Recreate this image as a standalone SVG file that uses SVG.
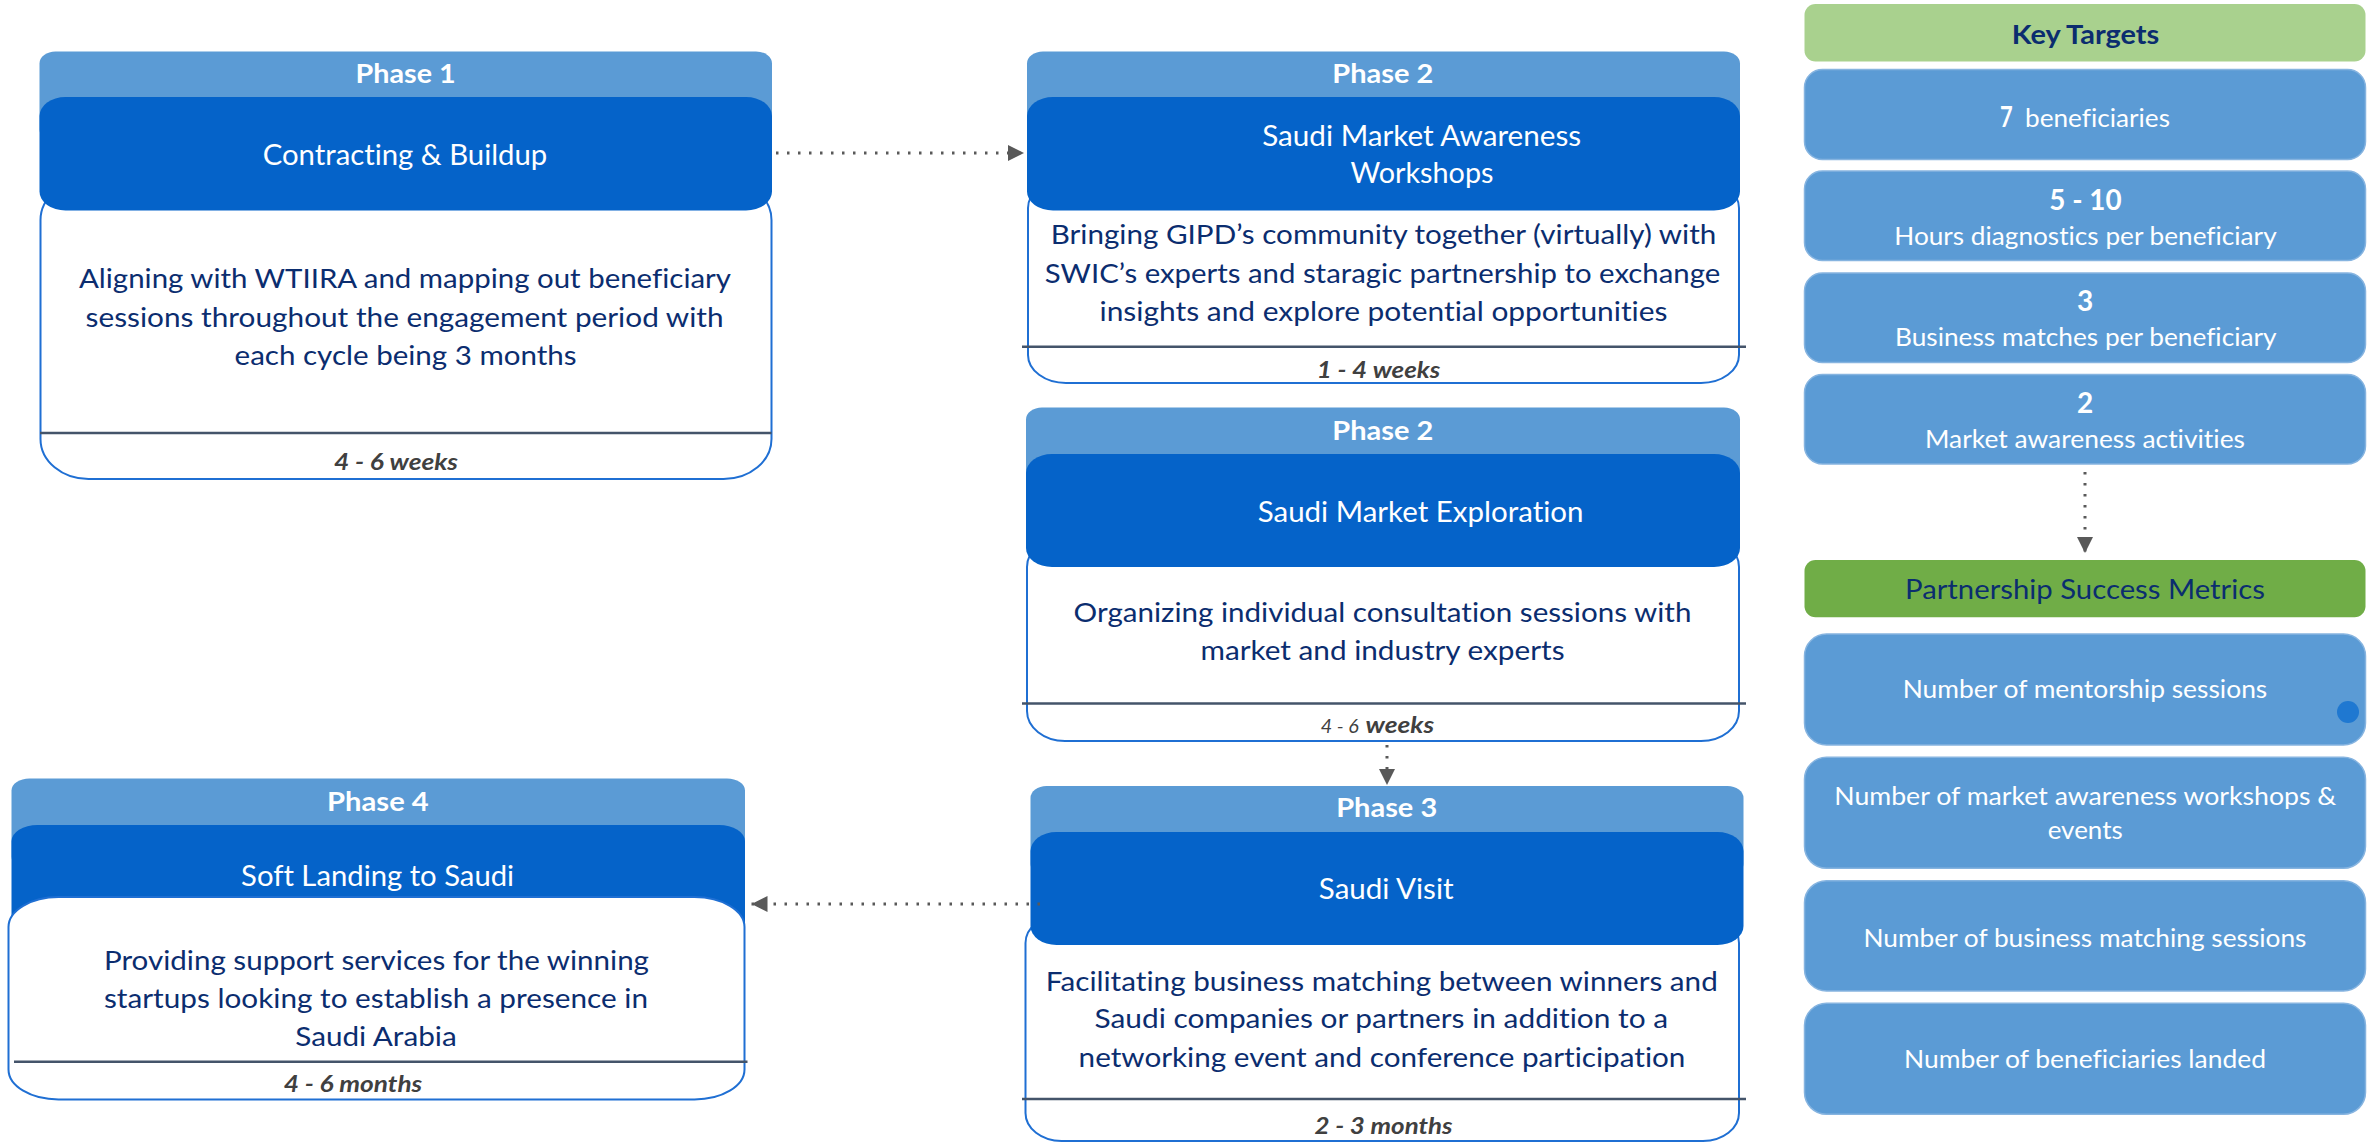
<svg xmlns="http://www.w3.org/2000/svg" width="2379" height="1144" viewBox="0 0 2379 1144">
  <defs>
    <marker id="arrow" markerUnits="userSpaceOnUse" markerWidth="16" markerHeight="16" refX="16" refY="8" orient="auto">
      <path d="M0,0 L16,8 L0,16 Z" fill="#595959"/>
    </marker>
    <style>
      text { font-family: Lato, "Liberation Sans", sans-serif; font-variant-ligatures: none; }
      .hdr { fill: #5B9BD5; }
      .ttl { fill: #0563C9; }
      .body { fill: #FFFFFF; stroke: #1F6FD3; stroke-width: 2; }
      .sep { stroke: #44546A; stroke-width: 2.5; }
      .ph { font-size: 27px; font-weight: bold; fill: #FFFFFF; text-anchor: middle; }
      .tt { font-size: 28px; fill: #FFFFFF; text-anchor: middle; }
      .bd { font-size: 26.5px; fill: #0B2D6F; text-anchor: middle; }
      .ft { font-size: 23px; font-weight: bold; font-style: italic; fill: #404040; text-anchor: middle; }
      .ftr { font-size: 18.5px; font-weight: normal; font-style: italic; fill: #404040; }
      .ftb { font-size: 23px; font-weight: bold; font-style: italic; fill: #404040; }
      .kbox { fill: #5B9BD5; stroke: #86B4E0; stroke-width: 1.5; }
      .kt { font-size: 25.5px; fill: #FFFFFF; text-anchor: middle; }
      .kn { font-size: 28px; font-weight: bold; fill: #FFFFFF; text-anchor: middle; }
      .gh { font-size: 27px; fill: #0B2D6F; text-anchor: middle; }
      .conn { fill: none; stroke: #595959; stroke-width: 3; stroke-dasharray: 2.5 8.5; }
    </style>
  </defs>

  <rect width="2379" height="1144" fill="#FFFFFF"/>

  <!-- Phase 1 -->
  <g id="phase1">
    <rect class="hdr" x="39.5" y="51.5" width="732.5" height="90" rx="16" ry="12"/>
    <rect class="body" x="40.5" y="180" width="731" height="299" rx="48" ry="40"/>
    <rect class="ttl" x="39.5" y="97" width="732.5" height="113.5" rx="26" ry="19"/>
    <line class="sep" x1="40" y1="433" x2="771.5" y2="433"/>
    <text class="ph" x="405.6" y="82.7" textLength="100" lengthAdjust="spacingAndGlyphs">Phase 1</text>
    <text class="tt" x="405" y="165" textLength="284.6" lengthAdjust="spacingAndGlyphs">Contracting &amp; Buildup</text>
    <text class="bd" x="405" y="288.3" textLength="652" lengthAdjust="spacingAndGlyphs">Aligning with WTIIRA and mapping out beneficiary</text>
    <text class="bd" x="404.6" y="326.7" textLength="638" lengthAdjust="spacingAndGlyphs">sessions throughout the engagement period with</text>
    <text class="bd" x="405.6" y="365" textLength="342" lengthAdjust="spacingAndGlyphs">each cycle being 3 months</text>
    <text class="ft" x="396" y="470" textLength="124" lengthAdjust="spacingAndGlyphs">4 - 6 weeks</text>
  </g>

  <!-- Phase 2: awareness workshops -->
  <g id="phase2-workshops">
    <rect class="hdr" x="1027" y="51.5" width="713" height="90" rx="16" ry="12"/>
    <rect class="body" x="1028" y="180" width="711" height="203" rx="38" ry="28"/>
    <rect class="ttl" x="1027" y="97" width="713" height="113.5" rx="26" ry="19"/>
    <line class="sep" x1="1022" y1="346.7" x2="1746" y2="346.7"/>
    <text class="ph" x="1382.8" y="82.7" textLength="101" lengthAdjust="spacingAndGlyphs">Phase 2</text>
    <text class="tt" x="1421.7" y="146" textLength="319" lengthAdjust="spacingAndGlyphs">Saudi Market Awareness</text>
    <text class="tt" x="1422" y="183.3" textLength="143" lengthAdjust="spacingAndGlyphs">Workshops</text>
    <text class="bd" x="1383.5" y="244" textLength="665.6" lengthAdjust="spacingAndGlyphs">Bringing GIPD’s community together (virtually) with</text>
    <text class="bd" x="1382.5" y="283.3" textLength="675.5" lengthAdjust="spacingAndGlyphs">SWIC’s experts and staragic partnership to exchange</text>
    <text class="bd" x="1383.5" y="321" textLength="568" lengthAdjust="spacingAndGlyphs">insights and explore potential opportunities</text>
    <text class="ft" x="1378.5" y="378.3" textLength="123.4" lengthAdjust="spacingAndGlyphs">1 - 4 weeks</text>
  </g>

  <!-- Phase 2: market exploration -->
  <g id="phase2-exploration">
    <rect class="hdr" x="1026" y="407.5" width="714" height="90" rx="16" ry="12"/>
    <rect class="body" x="1027" y="537" width="712" height="204" rx="38" ry="30"/>
    <rect class="ttl" x="1026" y="454" width="714" height="113" rx="26" ry="19"/>
    <line class="sep" x1="1022" y1="703.5" x2="1746" y2="703.5"/>
    <text class="ph" x="1382.8" y="440" textLength="101" lengthAdjust="spacingAndGlyphs">Phase 2</text>
    <text class="tt" x="1420.6" y="521.7" textLength="325.8" lengthAdjust="spacingAndGlyphs">Saudi Market Exploration</text>
    <text class="bd" x="1382.5" y="621.7" textLength="617.8" lengthAdjust="spacingAndGlyphs">Organizing individual consultation sessions with</text>
    <text class="bd" x="1382.5" y="660" textLength="364" lengthAdjust="spacingAndGlyphs">market and industry experts</text>
    <text y="732.7"><tspan class="ftr" x="1320.8" textLength="38" lengthAdjust="spacingAndGlyphs">4 - 6</tspan><tspan class="ftb" x="1365.6" textLength="68.6" lengthAdjust="spacingAndGlyphs">weeks</tspan></text>
  </g>

  <!-- Phase 3 -->
  <g id="phase3">
    <rect class="hdr" x="1030.5" y="786" width="713" height="90" rx="16" ry="12"/>
    <rect class="body" x="1025.5" y="915" width="713.5" height="226" rx="36" ry="28"/>
    <rect class="ttl" x="1030.5" y="832" width="713" height="113" rx="26" ry="19"/>
    <line class="sep" x1="1022" y1="1099" x2="1746" y2="1099"/>
    <text class="ph" x="1386.7" y="817.3" textLength="101" lengthAdjust="spacingAndGlyphs">Phase 3</text>
    <text class="tt" x="1386.2" y="899.3" textLength="134.8" lengthAdjust="spacingAndGlyphs">Saudi Visit</text>
    <text class="bd" x="1381.8" y="990.7" textLength="672" lengthAdjust="spacingAndGlyphs">Facilitating business matching between winners and</text>
    <text class="bd" x="1381.3" y="1028.3" textLength="573.5" lengthAdjust="spacingAndGlyphs">Saudi companies or partners in addition to a</text>
    <text class="bd" x="1382" y="1066.7" textLength="606.8" lengthAdjust="spacingAndGlyphs">networking event and conference participation</text>
    <text class="ft" x="1383.5" y="1134" textLength="138" lengthAdjust="spacingAndGlyphs">2 - 3 months</text>
  </g>

  <!-- Phase 4 -->
  <g id="phase4">
    <rect class="hdr" x="11.5" y="778.5" width="733.5" height="90" rx="18" ry="12"/>
    <rect class="ttl" x="11.5" y="825" width="733.5" height="120" rx="26" ry="16"/>
    <rect class="body" x="8.5" y="897" width="736" height="202.5" rx="50" ry="30"/>
    <line class="sep" x1="14" y1="1061.7" x2="747.5" y2="1061.7"/>
    <text class="ph" x="377.9" y="810.7" textLength="101.6" lengthAdjust="spacingAndGlyphs">Phase 4</text>
    <text class="tt" x="377.6" y="886" textLength="273" lengthAdjust="spacingAndGlyphs">Soft Landing to Saudi</text>
    <text class="bd" x="376.5" y="970" textLength="545" lengthAdjust="spacingAndGlyphs">Providing support services for the winning</text>
    <text class="bd" x="376" y="1008.3" textLength="544" lengthAdjust="spacingAndGlyphs">startups looking to establish a presence in</text>
    <text class="bd" x="376" y="1046" textLength="161.4" lengthAdjust="spacingAndGlyphs">Saudi Arabia</text>
    <text class="ft" x="353" y="1091.7" textLength="138.4" lengthAdjust="spacingAndGlyphs">4 - 6 months</text>
  </g>

  <!-- Key targets column -->
  <g id="key-targets">
    <rect x="1804.5" y="4" width="561" height="57.5" rx="11" fill="#A9D18E"/>
    <text class="gh" x="2085.5" y="44.3" font-weight="bold" textLength="147.6" lengthAdjust="spacingAndGlyphs">Key Targets</text>
  </g>
  <g id="target-beneficiaries">
    <rect class="kbox" x="1804.5" y="69.5" width="561" height="90" rx="18"/>
    <text y="126.7" fill="#FFFFFF"><tspan x="2000" font-size="28px" font-weight="bold" textLength="12.7" lengthAdjust="spacingAndGlyphs">7</tspan><tspan x="2025" font-size="25.5px" textLength="145" lengthAdjust="spacingAndGlyphs">beneficiaries</tspan></text>
  </g>
  <g id="target-hours">
    <rect class="kbox" x="1804.5" y="171" width="561" height="89.5" rx="18"/>
    <text class="kn" x="2085.5" y="210" textLength="72.3" lengthAdjust="spacingAndGlyphs">5 - 10</text>
    <text class="kt" x="2085.5" y="245" textLength="382.3" lengthAdjust="spacingAndGlyphs">Hours diagnostics per beneficiary</text>
  </g>
  <g id="target-matches">
    <rect class="kbox" x="1804.5" y="273" width="561" height="89.5" rx="18"/>
    <text class="kn" x="2085" y="310.7">3</text>
    <text class="kt" x="2085.8" y="346" textLength="381.7" lengthAdjust="spacingAndGlyphs">Business matches per beneficiary</text>
  </g>
  <g id="target-awareness">
    <rect class="kbox" x="1804.5" y="374.5" width="561" height="89.5" rx="18"/>
    <text class="kn" x="2085" y="412.7">2</text>
    <text class="kt" x="2085" y="448.3" textLength="320" lengthAdjust="spacingAndGlyphs">Market awareness activities</text>
  </g>

  <!-- Partnership success metrics column -->
  <g id="success-metrics">
    <rect x="1804.5" y="560" width="561" height="57.3" rx="11" fill="#70AD47"/>
    <text class="gh" x="2085" y="599.3" textLength="360" lengthAdjust="spacingAndGlyphs">Partnership Success Metrics</text>
  </g>
  <g id="metric-mentorship">
    <rect class="kbox" x="1804.5" y="634" width="561" height="111" rx="22"/>
    <text class="kt" x="2085" y="698.3" textLength="364.6" lengthAdjust="spacingAndGlyphs">Number of mentorship sessions</text>
    <circle cx="2348" cy="712" r="11" fill="#1F78D1"/>
  </g>
  <g id="metric-workshops">
    <rect class="kbox" x="1804.5" y="757.3" width="561" height="111" rx="22"/>
    <text class="kt" x="2085.3" y="805" textLength="502" lengthAdjust="spacingAndGlyphs">Number of market awareness workshops &amp;</text>
    <text class="kt" x="2085.2" y="839.3" textLength="75" lengthAdjust="spacingAndGlyphs">events</text>
  </g>
  <g id="metric-matching">
    <rect class="kbox" x="1804.5" y="880.7" width="561" height="110.3" rx="22"/>
    <text class="kt" x="2085" y="946.7" textLength="443" lengthAdjust="spacingAndGlyphs">Number of business matching sessions</text>
  </g>
  <g id="metric-landed">
    <rect class="kbox" x="1804.5" y="1003.3" width="561" height="111" rx="22"/>
    <text class="kt" x="2085" y="1068.3" textLength="362" lengthAdjust="spacingAndGlyphs">Number of beneficiaries landed</text>
  </g>

  <!-- Connectors -->
  <g id="connectors">
    <line class="conn" x1="776" y1="153" x2="1024" y2="153" marker-end="url(#arrow)"/>
    <line class="conn" x1="1387" y1="745" x2="1387" y2="785" marker-end="url(#arrow)"/>
    <line class="conn" x1="1040" y1="904" x2="751.5" y2="904" marker-end="url(#arrow)"/>
    <line class="conn" x1="2085" y1="472" x2="2085" y2="553" marker-end="url(#arrow)"/>
  </g>
</svg>
